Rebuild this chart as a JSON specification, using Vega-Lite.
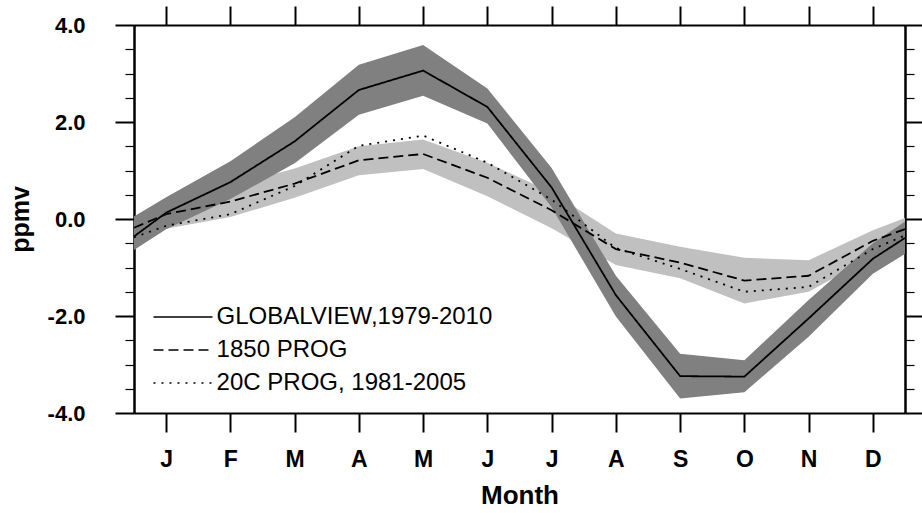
{
  "$schema": "https://vega.github.io/schema/vega-lite/v6.json",
  "width": 771,
  "height": 388,
  "autosize": "none",
  "padding": {"left": 134, "top": 25, "right": 17, "bottom": 100},
  "background": "white",
  "config": {
    "font": "Liberation Sans",
    "view": {"stroke": null},
    "axis": {"domainColor": "black", "domainWidth": 2, "tickColor": "black", "grid": false, "labelColor": "black", "titleColor": "black"}
  },
  "data": {
    "values": [
      {"m": 0.5, "series": "GLOBALVIEW,1979-2010", "v": -0.36, "lo": -0.64, "hi": 0.05},
      {"m": 1, "series": "GLOBALVIEW,1979-2010", "v": 0.13, "lo": -0.21, "hi": 0.45},
      {"m": 2, "series": "GLOBALVIEW,1979-2010", "v": 0.76, "lo": 0.41, "hi": 1.19},
      {"m": 3, "series": "GLOBALVIEW,1979-2010", "v": 1.6, "lo": 1.15, "hi": 2.1},
      {"m": 4, "series": "GLOBALVIEW,1979-2010", "v": 2.66, "lo": 2.15, "hi": 3.18},
      {"m": 5, "series": "GLOBALVIEW,1979-2010", "v": 3.06, "lo": 2.54, "hi": 3.59},
      {"m": 6, "series": "GLOBALVIEW,1979-2010", "v": 2.31, "lo": 1.97, "hi": 2.69},
      {"m": 7, "series": "GLOBALVIEW,1979-2010", "v": 0.65, "lo": 0.24, "hi": 1.05},
      {"m": 8, "series": "GLOBALVIEW,1979-2010", "v": -1.57, "lo": -2.01, "hi": -1.17},
      {"m": 9, "series": "GLOBALVIEW,1979-2010", "v": -3.24, "lo": -3.7, "hi": -2.78},
      {"m": 10, "series": "GLOBALVIEW,1979-2010", "v": -3.25, "lo": -3.57, "hi": -2.91},
      {"m": 11, "series": "GLOBALVIEW,1979-2010", "v": -2.05, "lo": -2.43, "hi": -1.67},
      {"m": 12, "series": "GLOBALVIEW,1979-2010", "v": -0.82, "lo": -1.13, "hi": -0.5},
      {"m": 12.5, "series": "GLOBALVIEW,1979-2010", "v": -0.39, "lo": -0.72, "hi": -0.05},
      {"m": 0.5, "series": "1850 PROG", "v": -0.18, "lo": -0.45, "hi": 0.05},
      {"m": 1, "series": "1850 PROG", "v": 0.1, "lo": -0.2, "hi": 0.4},
      {"m": 2, "series": "1850 PROG", "v": 0.36, "lo": 0.04, "hi": 0.68},
      {"m": 3, "series": "1850 PROG", "v": 0.73, "lo": 0.44, "hi": 1.04},
      {"m": 4, "series": "1850 PROG", "v": 1.21, "lo": 0.9, "hi": 1.5},
      {"m": 5, "series": "1850 PROG", "v": 1.34, "lo": 1.03, "hi": 1.64},
      {"m": 6, "series": "1850 PROG", "v": 0.85, "lo": 0.47, "hi": 1.16},
      {"m": 7, "series": "1850 PROG", "v": 0.18, "lo": -0.19, "hi": 0.55},
      {"m": 8, "series": "1850 PROG", "v": -0.62, "lo": -0.95, "hi": -0.3},
      {"m": 9, "series": "1850 PROG", "v": -0.9, "lo": -1.22, "hi": -0.57},
      {"m": 10, "series": "1850 PROG", "v": -1.27, "lo": -1.74, "hi": -0.8},
      {"m": 11, "series": "1850 PROG", "v": -1.17, "lo": -1.5, "hi": -0.85},
      {"m": 12, "series": "1850 PROG", "v": -0.45, "lo": -0.78, "hi": -0.23},
      {"m": 12.5, "series": "1850 PROG", "v": -0.21, "lo": -0.47, "hi": 0.02},
      {"m": 0.5, "series": "20C PROG, 1981-2005", "v": -0.38},
      {"m": 1, "series": "20C PROG, 1981-2005", "v": -0.14},
      {"m": 2, "series": "20C PROG, 1981-2005", "v": 0.1},
      {"m": 3, "series": "20C PROG, 1981-2005", "v": 0.68},
      {"m": 4, "series": "20C PROG, 1981-2005", "v": 1.51},
      {"m": 5, "series": "20C PROG, 1981-2005", "v": 1.72},
      {"m": 6, "series": "20C PROG, 1981-2005", "v": 1.16},
      {"m": 7, "series": "20C PROG, 1981-2005", "v": 0.4},
      {"m": 8, "series": "20C PROG, 1981-2005", "v": -0.6},
      {"m": 9, "series": "20C PROG, 1981-2005", "v": -1.03},
      {"m": 10, "series": "20C PROG, 1981-2005", "v": -1.5},
      {"m": 11, "series": "20C PROG, 1981-2005", "v": -1.4},
      {"m": 12, "series": "20C PROG, 1981-2005", "v": -0.62},
      {"m": 12.5, "series": "20C PROG, 1981-2005", "v": -0.34}
    ]
  },
  "resolve": {"axis": {"x": "independent", "y": "independent"}},
  "layer": [
    {
      "transform": [{"filter": "datum.series === '1850 PROG'"}],
      "mark": {"type": "area", "color": "#c0c0c0", "opacity": 1},
      "encoding": {
        "x": {"field": "m", "type": "quantitative", "scale": {"domain": [0.5, 12.5], "nice": false, "zero": false},
          "axis": {"orient": "bottom", "values": [1,2,3,4,5,6,7,8,9,10,11,12], "labelExpr": "['J','F','M','A','M','J','J','A','S','O','N','D'][datum.value-1]",
            "tickSize": 19, "tickWidth": 2, "labelPadding": 16, "labelFontSize": 23, "labelFontWeight": "bold", "labelFont": "Liberation Sans",
            "title": "Month", "titleFontSize": 26, "titleFontWeight": "bold", "titlePadding": 11, "titleFont": "Liberation Sans"}},
        "y": {"field": "lo", "type": "quantitative", "scale": {"domain": [-4, 4], "nice": false, "zero": false},
          "axis": {"orient": "left", "values": [-4,-2,0,2,4], "labelExpr": "datum.value < 0 ? '-' + format(-datum.value, '.1f') : format(datum.value, '.1f')",
            "tickSize": 19, "tickWidth": 2, "labelPadding": 30, "labelFontSize": 22, "labelFontWeight": "bold", "labelFont": "Liberation Sans",
            "title": "ppmv", "titleFontSize": 25, "titleFontWeight": "bold", "titlePadding": 14, "titleFont": "Liberation Sans"}},
        "y2": {"field": "hi"}
      }
    },
    {
      "transform": [{"filter": "datum.series === 'GLOBALVIEW,1979-2010'"}],
      "mark": {"type": "area", "color": "#808080", "opacity": 1},
      "encoding": {
        "x": {"field": "m", "type": "quantitative",
          "axis": {"orient": "top", "values": [1,2,3,4,5,6,7,8,9,10,11,12], "labels": false, "tickSize": 19, "tickWidth": 2, "title": null}},
        "y": {"field": "lo", "type": "quantitative",
          "axis": {"orient": "right", "values": [-4,-2,0,2,4], "labels": false, "tickSize": 19, "tickWidth": 2, "title": null}},
        "y2": {"field": "hi"}
      }
    },
    {
      "mark": {"type": "line", "color": "black", "strokeWidth": 1.8},
      "encoding": {
        "x": {"field": "m", "type": "quantitative", "axis": null},
        "y": {"field": "v", "type": "quantitative",
          "axis": {"orient": "left", "values": [-3.5,-3,-2.5,-1.5,-1,-0.5,0.5,1,1.5,2.5,3,3.5], "labels": false, "tickSize": 9, "tickWidth": 1.2, "title": null}},
        "strokeDash": {"field": "series", "type": "nominal",
          "scale": {"domain": ["GLOBALVIEW,1979-2010", "1850 PROG", "20C PROG, 1981-2005"], "range": [[1, 0], [10, 5], [2, 6]]},
          "legend": {"orient": "none", "legendX": 37, "legendY": 280, "title": null, "padding": 0,
            "labelFontSize": 24, "labelFont": "Liberation Sans", "labelColor": "black", "labelOffset": 21.6, "labelLimit": 0,
            "symbolType": "M-3,0H3", "symbolSize": 387, "symbolStrokeWidth": 1.6, "symbolStrokeColor": "black", "rowPadding": 9}}
      }
    },
    {
      "transform": [{"filter": "datum.series === 'GLOBALVIEW,1979-2010'"}],
      "mark": {"type": "line", "opacity": 0},
      "encoding": {
        "x": {"field": "m", "type": "quantitative", "axis": null},
        "y": {"field": "v", "type": "quantitative",
          "axis": {"orient": "right", "values": [-3.5,-3,-2.5,-1.5,-1,-0.5,0.5,1,1.5,2.5,3,3.5], "labels": false, "tickSize": 9, "tickWidth": 1.2, "title": null}}
      }
    }
  ]
}
